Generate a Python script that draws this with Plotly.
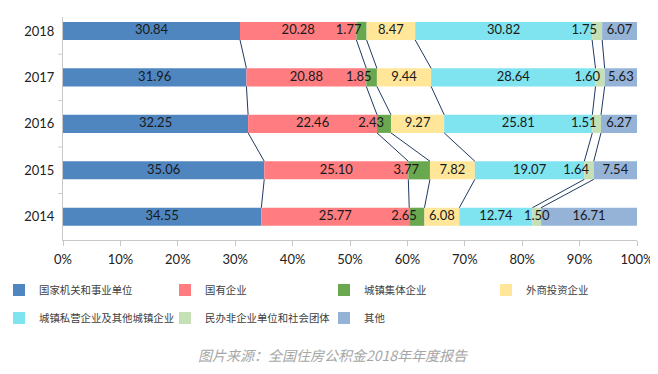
import plotly.graph_objects as go

years = ["2014", "2015", "2016", "2017", "2018"]
series_names = ["国家机关和事业单位", "国有企业", "城镇集体企业", "外商投资企业",
                "城镇私营企业及其他城镇企业", "民办非企业单位和社会团体", "其他"]
values = {
    "国家机关和事业单位": [34.55, 35.06, 32.25, 31.96, 30.84],
    "国有企业": [25.77, 25.10, 22.46, 20.88, 20.28],
    "城镇集体企业": [2.65, 3.77, 2.43, 1.85, 1.77],
    "外商投资企业": [6.08, 7.82, 9.27, 9.44, 8.47],
    "城镇私营企业及其他城镇企业": [12.74, 19.07, 25.81, 28.64, 30.82],
    "民办非企业单位和社会团体": [1.50, 1.64, 1.51, 1.60, 1.75],
    "其他": [16.71, 7.54, 6.27, 5.63, 6.07],
}
colors = ["#4F86C0", "#FF7C80", "#6AA84F", "#FFE699", "#7FE3F0", "#C5E0B4", "#95B3D7"]
x_ticks = [0, 10, 20, 30, 40, 50, 60, 70, 80, 90, 100]
caption = "图片来源：全国住房公积金2018年年度报告"

# page body has an 8px margin, so the figure is laid out at 650x366
W, H = 650, 366
L, R, T, B = 55, 21, 9, 134
plot_w = W - L - R

ypos = list(range(len(years)))
bar_w = 0.39
narrow = 4.0      # a narrow segment's label moves left of centre ...
crowded = 10.0    # ... when the next segment is also small (labels close together)

# legend placement: (row, column) for each series
legend_rows = [0, 0, 0, 0, 1, 1, 1]
legend_cols = [0, 1, 2, 3, 0, 1, 2]
col_px = [-9, 157, 316, 478]           # legend box left edge, figure pixels
row_y = [-0.159, -0.285]               # legend top, paper units

fig = go.Figure()
cum = [[0.0] * len(years)]
layout_legends = {}
for idx, (name, col) in enumerate(zip(series_names, colors)):
    v = values[name]
    base = cum[-1]
    nxt = values[series_names[idx + 1]] if idx + 1 < len(series_names) else [100.0] * len(v)
    lg = "legend" if idx == 0 else f"legend{idx + 1}"
    fig.add_trace(go.Bar(
        y=ypos, x=v, base=base, orientation="h", name=name,
        marker=dict(color=col, line=dict(width=0)), width=bar_w,
        hoverinfo="x+name", legend=lg,
    ))
    fig.add_trace(go.Scatter(
        x=[b + a / 2 for a, b in zip(v, base)], y=ypos, mode="text",
        text=[f"{a:.2f}" for a in v],
        textposition=["middle left" if (a < narrow and n < crowded) else "middle center"
                      for a, n in zip(v, nxt)],
        textfont=dict(family="Lato, Open Sans, sans-serif", size=13, color="#1a1a1a"),
        showlegend=False, hoverinfo="skip", cliponaxis=False,
    ))
    layout_legends[lg] = dict(
        orientation="h", xanchor="left", yanchor="top",
        x=(col_px[legend_cols[idx]] - L) / plot_w, y=row_y[legend_rows[idx]],
        font=dict(family="Noto Sans CJK SC, serif", size=10.4, color="#404040"),
        itemwidth=30, bgcolor="rgba(0,0,0,0)",
    )
    cum.append([b + a for a, b in zip(v, base)])

# series lines between stacked boundaries of adjacent bars
shapes = []
for k in range(1, len(series_names)):
    c = cum[k]
    for i in range(len(years) - 1):
        shapes.append(dict(
            type="line", xref="x", yref="y",
            x0=c[i + 1], y0=ypos[i + 1] - bar_w / 2,
            x1=c[i], y1=ypos[i] + bar_w / 2,
            line=dict(color="#1F3A60", width=1),
            layer="above",
        ))
# y-axis boundary ticks between categories
for i in range(len(years) - 1):
    shapes.append(dict(type="line", xref="paper", yref="y", x0=-0.008, x1=0,
                       y0=ypos[i] + 0.5, y1=ypos[i] + 0.5,
                       line=dict(color="#C8C8C8", width=1)))

fig.update_layout(
    width=W, height=H,
    margin=dict(l=L, r=R, t=T, b=B, autoexpand=False),
    barmode="overlay",
    plot_bgcolor="white", paper_bgcolor="white",
    shapes=shapes,
    font=dict(family="Noto Sans CJK SC, sans-serif", color="#333333"),
    xaxis=dict(
        range=[0, 100], tickvals=x_ticks, ticktext=[f"{t}%" for t in x_ticks],
        showgrid=False, zeroline=False, showline=True, linecolor="#C8C8C8",
        ticks="outside", ticklen=5, tickcolor="#C8C8C8", automargin=False,
        ticklabelstandoff=2,
        tickfont=dict(family="Lato, Open Sans, sans-serif", size=13, color="#222222"),
        fixedrange=True,
    ),
    yaxis=dict(
        range=[-0.5, 4.3], tickvals=ypos, ticktext=years,
        showgrid=False, zeroline=False, showline=True, linecolor="#C8C8C8",
        ticks="", ticklabelstandoff=5, automargin=False,
        tickfont=dict(family="Lato, Open Sans, sans-serif", size=13, color="#222222"),
        fixedrange=True,
    ),
    annotations=[dict(
        text=caption, xref="paper", yref="paper", x=0.470, y=-0.516,
        xanchor="center", yanchor="middle", showarrow=False,
        font=dict(family="Noto Sans CJK SC, sans-serif", size=14, color="#A6A6A6", style="italic"),
    )],
    **layout_legends,
)

fig.write_html("out.html")
